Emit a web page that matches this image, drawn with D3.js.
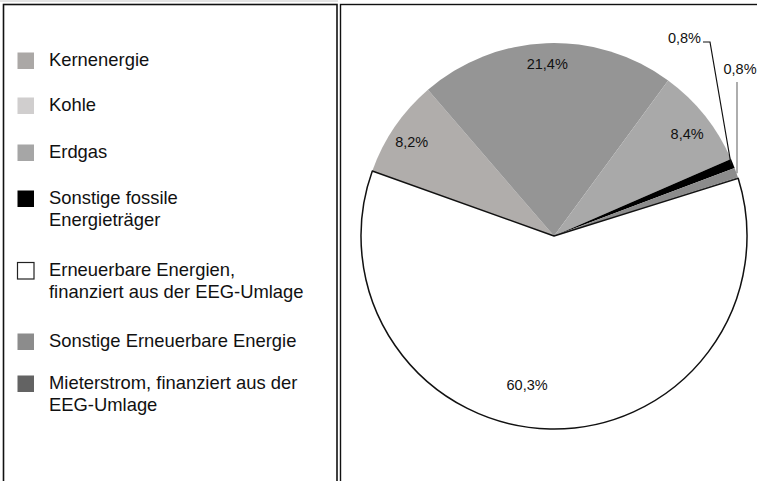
<!DOCTYPE html>
<html><head>
<meta charset="utf-8">
<script src="https://d3js.org/d3.v7.min.js"></script>
<style>
  body { margin:0; background:#fff; }
  svg text { font-family:"Liberation Sans", Arial, sans-serif; fill:#111; }
</style>
</head>
<body>
<svg id="chart" width="757" height="481"></svg>
<script>
  // legend entries (label lines) in order
  const categories = ["Kernenergie", "Kohle", "Erdgas", "Sonstige fossile Energieträger",
                      "Erneuerbare Energien, finanziert aus der EEG-Umlage",
                      "Sonstige Erneuerbare Energie", "Mieterstrom, finanziert aus der EEG-Umlage"];
  const legendLines = [["Kernenergie"], ["Kohle"], ["Erdgas"],
                       ["Sonstige fossile", "Energieträger"],
                       ["Erneuerbare Energien,", "finanziert aus der EEG-Umlage"],
                       ["Sonstige Erneuerbare Energie"],
                       ["Mieterstrom, finanziert aus der", "EEG-Umlage"]];
  const legendColors = ["#aba8a6", "#d0cece", "#a6a6a6", "#000000", "#ffffff", "#8c8c8c", "#636363"];

  // pie slices, clockwise
  const sliceNames = ["Kernenergie", "Kohle", "Erdgas", "Sonstige fossile Energieträger",
                      "Sonstige Erneuerbare Energie", "Mieterstrom, finanziert aus der EEG-Umlage",
                      "Erneuerbare Energien, finanziert aus der EEG-Umlage"];
  const sliceValues = [8.2, 21.4, 8.4, 0.8, 0.8, 0.1, 60.3];
  const sliceColors = ["#b0adab", "#959595", "#a9a9a9", "#000000", "#8c8c8c", "#636363", "#ffffff"];
  const sliceLabels = ["8,2%", "21,4%", "8,4%", "0,8%", "0,8%", "", "60,3%"];

  let svg = d3.select("svg#chart");

  // panels
  svg.append("line").attr("x1",0).attr("x2",338).attr("y1",1).attr("y2",1)
     .style("stroke","#c8c8c8").style("stroke-width",1);
  svg.append("rect").attr("x",3.5).attr("y",4.5).attr("width",333.5).attr("height",500)
     .style("fill","none").style("stroke","#111").style("stroke-width",1.6);
  svg.append("rect").attr("x",340.5).attr("y",4.5).attr("width",440).attr("height",500)
     .style("fill","none").style("stroke","#111").style("stroke-width",1.4);

  // legend
  const rowTops = [52, 97, 144, 190, 262, 333, 375];
  legendLines.forEach((lines, i) => {
    svg.append("rect")
       .attr("x",17.5).attr("y",rowTops[i] + 0.5)
       .attr("width",16.5).attr("height",16.5)
       .style("fill",legendColors[i])
       .style("stroke", i === 4 ? "#222" : "none")
       .style("stroke-width",1.2);
    lines.forEach((t, j) => {
      svg.append("text")
         .text(t)
         .attr("x",49)
         .attr("y",rowTops[i] + 9.5 + j * 22)
         .style("font-size","18.4px")
         .style("dominant-baseline","middle");
    });
  });

  // pie
  const cx = 554, cy = 236, r = 193;
  const startA = -70.3 * Math.PI / 180;
  let pie = d3.pie().sort(null).value(d => d)
              .startAngle(startA).endAngle(startA + 2 * Math.PI);
  let arcs = pie(sliceValues);
  let arc = d3.arc().innerRadius(0).outerRadius(r);

  let g = svg.append("g").attr("transform",`translate(${cx},${cy})`);
  arcs.forEach((a, i) => {
    g.append("path")
     .attr("d",arc(a))
     .style("fill",sliceColors[i])
     .style("stroke", i === 6 ? "#111" : "none")
     .style("stroke-width",1.5)
     .style("stroke-linejoin","round");
  });

  // labels inside big slices
  const labelRadius = [0.88, 0.886, 0.865, 0, 0, 0, 0.79];
  const labelShift = [-1.4, 0, 1.5, 0, 0, 0, 9];   // degrees
  arcs.forEach((a, i) => {
    if (!labelRadius[i]) return;
    let m = (a.startAngle + a.endAngle) / 2 + labelShift[i] * Math.PI / 180;
    let rr = r * labelRadius[i];
    svg.append("text")
       .text(sliceLabels[i])
       .attr("x",cx + rr * Math.sin(m))
       .attr("y",cy - rr * Math.cos(m))
       .style("font-size","14.5px")
       .style("text-anchor","middle")
       .style("dominant-baseline","middle");
  });

  // small slices with leader lines
  const leaders = [
    {i:3, tx:701, ty:39, anchor:"end", knee:[710,42], color:"#111"},
    {i:4, tx:740, ty:70, anchor:"middle", knee:[737,82], color:"#777"}
  ];
  leaders.forEach(d => {
    let a = arcs[d.i];
    let m = (a.startAngle + a.endAngle) / 2;
    let px = cx + (r - 2) * Math.sin(m), py = cy - (r - 2) * Math.cos(m);
    let pts = d.anchor === "end"
      ? [[d.tx + 2, d.knee[1]], d.knee, [px, py]]
      : [d.knee, [d.knee[0], py]];
    svg.append("path")
       .attr("d",d3.line()(pts))
       .style("fill","none").style("stroke",d.color).style("stroke-width",1.2);
    svg.append("text")
       .text(sliceLabels[d.i])
       .attr("x",d.tx).attr("y",d.ty)
       .style("font-size","14.5px")
       .style("text-anchor",d.anchor)
       .style("dominant-baseline","middle");
  });
</script>
</body>
</html>
